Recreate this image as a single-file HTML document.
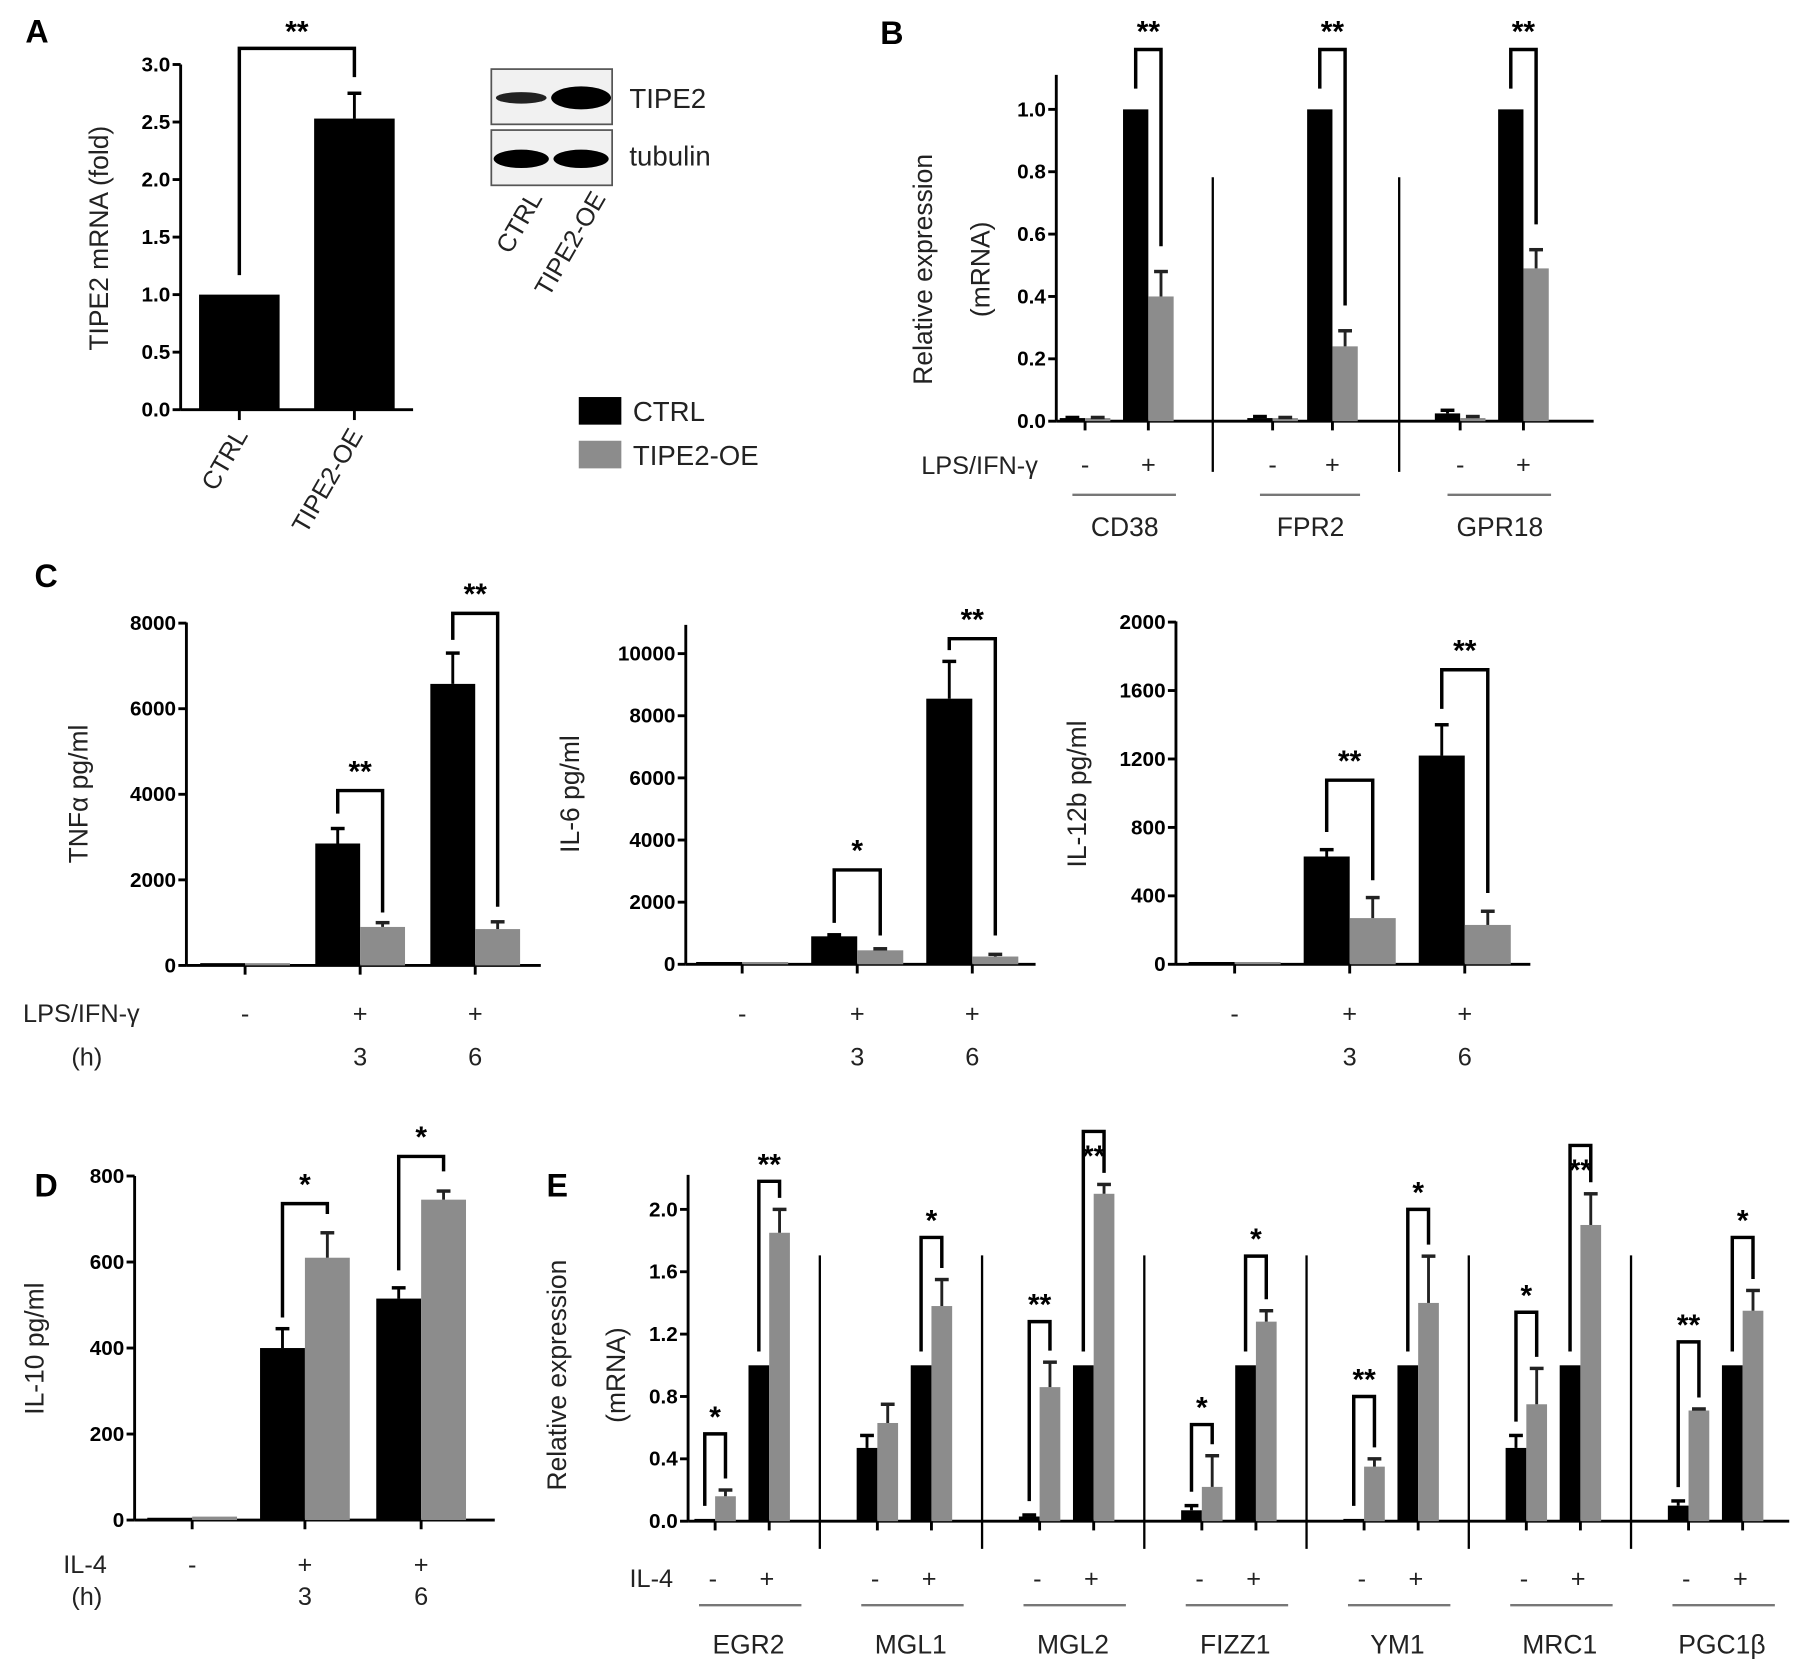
<!DOCTYPE html>
<html><head><meta charset="utf-8">
<style>
html,body{margin:0;padding:0;background:#fff;}
svg{display:block;}
text{font-family:"Liberation Sans",Arial,sans-serif;}
.tk{font-weight:bold;font-size:18px;}
.lb{font-size:22px;fill:#222;}
.pl{font-weight:bold;font-size:28px;}
</style></head>
<body>
<svg id="fig" xmlns="http://www.w3.org/2000/svg" width="1795" height="1672" viewBox="0 0 1560 1453"></svg>
<script>
// ---------- Data ----------
// Panel A
const aCats = ["CTRL", "TIPE2-OE"];
const aVals = [1.0, 2.53];
const aErr = [1.0, 2.75];
const aTicks = [0, 0.5, 1.0, 1.5, 2.0, 2.5, 3.0];
// Panel B
const bGenes = ["CD38", "FPR2", "GPR18"];
const bCtrl = [[0.01, 1.0], [0.01, 1.0], [0.025, 1.0]];
const bCtrlErr = [[0.012, 1.0], [0.015, 1.0], [0.035, 1.0]];
const bOE = [[0.01, 0.40], [0.01, 0.24], [0.01, 0.49]];
const bOEErr = [[0.012, 0.48], [0.012, 0.29], [0.015, 0.55]];
const bTicks = [0, 0.2, 0.4, 0.6, 0.8, 1.0];
// Panel C
const cTnfCtrl = [30, 2850, 6580];
const cTnfCtrlErr = [30, 3200, 7300];
const cTnfOE = [30, 900, 850];
const cTnfOEErr = [30, 1000, 1020];
const cTnfTicks = [0, 2000, 4000, 6000, 8000];
const cIl6Ctrl = [30, 900, 8550];
const cIl6CtrlErr = [30, 950, 9750];
const cIl6OE = [10, 450, 250];
const cIl6OEErr = [10, 500, 320];
const cIl6Ticks = [0, 2000, 4000, 6000, 8000, 10000];
const cIl12Ctrl = [10, 630, 1220];
const cIl12CtrlErr = [10, 670, 1400];
const cIl12OE = [10, 270, 230];
const cIl12OEErr = [10, 390, 310];
const cIl12Ticks = [0, 400, 800, 1200, 1600, 2000];
// Panel D
const dCtrl = [5, 400, 515];
const dCtrlErr = [5, 445, 540];
const dOE = [8, 610, 745];
const dOEErr = [8, 668, 765];
const dTicks = [0, 200, 400, 600, 800];
// Panel E
const eGenes = ["EGR2", "MGL1", "MGL2", "FIZZ1", "YM1", "MRC1", "PGC1β"];
const eCtrl = [[0.01, 1.0], [0.47, 1.0], [0.03, 1.0], [0.07, 1.0], [0.01, 1.0], [0.47, 1.0], [0.10, 1.0]];
const eCtrlErr = [[0.01, 1.0], [0.55, 1.0], [0.04, 1.0], [0.10, 1.0], [0.01, 1.0], [0.55, 1.0], [0.13, 1.0]];
const eOE = [[0.16, 1.85], [0.63, 1.38], [0.86, 2.10], [0.22, 1.28], [0.35, 1.40], [0.75, 1.90], [0.71, 1.35]];
const eOEErr = [[0.20, 2.00], [0.75, 1.55], [1.02, 2.16], [0.42, 1.35], [0.40, 1.70], [0.98, 2.10], [0.72, 1.48]];
const eSig = [["*", "**"], ["", "*"], ["**", "**"], ["*", "*"], ["**", "*"], ["*", "**"], ["**", "*"]];
const eSigTop = [[0.56, 2.18], [0, 1.82], [1.28, 2.5], [0.62, 1.70], [0.80, 2.00], [1.34, 2.41], [1.15, 1.82]];
const eTicks = [0, 0.4, 0.8, 1.2, 1.6, 2.0];

// ---------- Helpers ----------
const NS = "http://www.w3.org/2000/svg";
const svg = document.getElementById("fig");
const BLACK = "#000", GRAY = "#8c8c8c";
function el(tag, attrs, name, txt) {
  const e = document.createElementNS(NS, tag);
  for (const k in attrs) e.setAttribute(k, attrs[k]);
  
  
  if (txt !== undefined) e.textContent = txt;
  svg.appendChild(e);
  return e;
}
function line(x1, y1, x2, y2, name, w, col) {
  return el("line", {x1, y1, x2, y2, stroke: col || "#000", "stroke-width": w || 2.5}, name);
}
function text(x, y, s, cls, name, anchor, extra) {
  const a = Object.assign({x, y, class: cls, "text-anchor": anchor || "middle"}, extra || {});
  return el("text", a, name, s);
}
function yAxis(x, yTop, yOf, ticks, fmt, name) {
  line(x, yTop, x, yOf(0), name + "-y-axis");
  ticks.forEach(t => {
    const y = yOf(t);
    line(x - 7, y, x, y, name + "-y-tick");
    text(x - 9, y + 6, fmt(t), "tk", name + "-y-tick-label", "end");
  });
}
function bar(x, w, v, e, yOf, col, name) {
  const y = yOf(v), y0 = yOf(0);
  el("rect", {x: x, y: Math.min(y, y0 - 2), width: w, height: Math.max(y0 - y, 2), fill: col}, name);
  const cx = x + w / 2;
  if (e > v) {
    const ye = yOf(e);
    line(cx, ye, cx, y, name + "-error", 2.5, col === BLACK ? "#000" : "#222");
    line(cx - 6, ye, cx + 6, ye, name + "-error-cap", 3, col === BLACK ? "#000" : "#222");
  }
}
function bracket(x1, y1, x2, y2, yTop, star, name, starY) {
  el("path", {d: `M${x1},${y1} L${x1},${yTop} L${x2},${yTop} L${x2},${y2}`, fill: "none", stroke: "#000", "stroke-width": 3}, name);
  if (star) text((x1 + x2) / 2, starY !== undefined ? starY : yTop - 6, star, "pl", name + "-stars", "middle", {style: "font-size:26px"});
}
function ytitle(x, yc, s, name) {
  text(x, yc, s, "lb", name, "middle", {transform: `rotate(-90 ${x} ${yc})`, style: "font-size:23px"});
}

// ---------- Panel A ----------
text(22, 37, "A", "pl", "panel-a-label", "start");
{
  const yOf = v => 356 - v * 100;
  yAxis(157, 56, yOf, aTicks, t => t.toFixed(1), "panel-a");
  line(157, 356, 359, 356, "panel-a-x-axis");
  const xs = [208, 308];
  aCats.forEach((c, i) => {
    bar(xs[i] - 35, 70, aVals[i], aErr[i], yOf, BLACK, "panel-a-bar-" + c.toLowerCase());
    line(xs[i], 356, xs[i], 365, "panel-a-x-tick");
    text(xs[i] + 8, 378, c, "lb", "panel-a-x-label", "end", {transform: `rotate(-60 ${xs[i] + 8} 378)`});
  });
  bracket(xs[0], yOf(aVals[0]) - 17, xs[1], yOf(aErr[1]) - 14, 42, "**", "panel-a-significance");
  ytitle(94, 207, "TIPE2 mRNA (fold)", "panel-a-y-title");
  // western blot
  el("rect", {x: 427, y: 60, width: 105, height: 48, fill: "#f1f1f1", stroke: "#555", "stroke-width": 1.5}, "blot-tipe2-box");
  el("rect", {x: 427, y: 113, width: 105, height: 48, fill: "#f1f1f1", stroke: "#555", "stroke-width": 1.5}, "blot-tubulin-box");
  el("ellipse", {cx: 453, cy: 85, rx: 22, ry: 5, fill: "#222"}, "blot-band-tipe2-ctrl");
  el("ellipse", {cx: 505, cy: 85, rx: 26, ry: 10, fill: "#000"}, "blot-band-tipe2-oe");
  el("ellipse", {cx: 453, cy: 138, rx: 24, ry: 8, fill: "#000"}, "blot-band-tubulin-ctrl");
  el("ellipse", {cx: 505, cy: 138, rx: 24, ry: 8, fill: "#000"}, "blot-band-tubulin-oe");
  text(547, 94, "TIPE2", "lb", "blot-label-tipe2", "start", {style: "font-size:24px"});
  text(547, 144, "tubulin", "lb", "blot-label-tubulin", "start", {style: "font-size:24px"});
  text(472, 172, "CTRL", "lb", "blot-lane-ctrl", "end", {transform: "rotate(-60 472 172)"});
  text(527, 172, "TIPE2-OE", "lb", "blot-lane-oe", "end", {transform: "rotate(-60 527 172)"});
  // legend
  el("rect", {x: 503, y: 345, width: 37, height: 24, fill: BLACK}, "legend-ctrl-swatch");
  text(550, 366, "CTRL", "lb", "legend-ctrl-label", "start", {style: "font-size:24px"});
  el("rect", {x: 503, y: 383, width: 37, height: 24, fill: GRAY}, "legend-oe-swatch");
  text(550, 404, "TIPE2-OE", "lb", "legend-oe-label", "start", {style: "font-size:24px"});
}

// ---------- Panel B ----------
text(765, 38, "B", "pl", "panel-b-label", "start");
{
  const yOf = v => 366 - v * 271;
  yAxis(918, 65, yOf, bTicks, t => t.toFixed(1), "panel-b");
  line(918, 366, 1385, 366, "panel-b-x-axis");
  [1054, 1216].forEach(x => line(x, 154, x, 410, "panel-b-separator", 2));
  const pos = [[943, 998], [1106, 1158], [1269, 1324]];
  const w = 22;
  text(902, 412, "LPS/IFN-γ", "lb", "panel-b-treatment-label", "end");
  bGenes.forEach((g, gi) => {
    pos[gi].forEach((x, j) => {
      bar(x - w, w, bCtrl[gi][j], bCtrlErr[gi][j], yOf, BLACK, "panel-b-bar-ctrl-" + g.toLowerCase());
      bar(x, w, bOE[gi][j], bOEErr[gi][j], yOf, GRAY, "panel-b-bar-oe-" + g.toLowerCase());
      line(x, 366, x, 374, "panel-b-x-tick");
      text(x, 411, j ? "+" : "-", "lb", "panel-b-treatment-sign");
    });
    const xp = pos[gi][1];
    bracket(xp - w / 2, yOf(bCtrl[gi][1]) - 18, xp + w / 2, yOf(bOEErr[gi][1]) - 22, 43, "**", "panel-b-significance-" + g.toLowerCase(), 36);
    line(pos[gi][0] - 11, 430, pos[gi][1] + 24, 430, "panel-b-group-underline", 2, "#777");
    text((pos[gi][0] + pos[gi][1]) / 2 + 7, 466, g, "lb", "panel-b-gene-label", "middle", {style: "font-size:23px"});
  });
  ytitle(810, 234, "Relative expression", "panel-b-y-title");
  ytitle(860, 234, "(mRNA)", "panel-b-y-title-unit");
}

// ---------- Panel C ----------
text(30, 510, "C", "pl", "panel-c-label", "start");
function cytokine(cfg) {
  const yOf = v => cfg.y0 - v * cfg.k;
  yAxis(cfg.x, cfg.top, yOf, cfg.ticks, t => String(t), cfg.name);
  line(cfg.x, cfg.y0, cfg.xEnd, cfg.y0, cfg.name + "-x-axis");
  const w = cfg.w;
  cfg.pos.forEach((x, i) => {
    bar(x - w, w, cfg.ctrl[i], cfg.ctrlErr[i], yOf, BLACK, cfg.name + "-bar-ctrl");
    bar(x, w, cfg.oe[i], cfg.oeErr[i], yOf, GRAY, cfg.name + "-bar-oe");
    line(x, cfg.y0, x, cfg.y0 + 8, cfg.name + "-x-tick");
    text(x, cfg.signY, i ? "+" : "-", "lb", cfg.name + "-treatment-sign");
    if (i) text(x, cfg.hourY, cfg.hours[i], "lb", cfg.name + "-hours-label");
    if (i && cfg.sig[i]) {
      bracket(x - w / 2, cfg.legL[i], x + w / 2, cfg.legR[i], cfg.btop[i], cfg.sig[i], cfg.name + "-significance", cfg.btop[i] - 8);
    }
  });
  ytitle(cfg.tx, cfg.ty, cfg.title, cfg.name + "-y-title");
}
cytokine({name: "panel-c-tnf", x: 162, top: 541, y0: 839, k: 297.5 / 8000, xEnd: 470, ticks: cTnfTicks, w: 39,
  pos: [213, 313, 413], hours: ["", "3", "6"], ctrl: cTnfCtrl, ctrlErr: cTnfCtrlErr, oe: cTnfOE, oeErr: cTnfOEErr,
  sig: ["", "**", "**"], btop: [0, 687, 533], legL: [0, 707, 556], legR: [0, 793, 788], signY: 888, hourY: 926, tx: 76, ty: 690, title: "TNFα pg/ml"});
cytokine({name: "panel-c-il6", x: 596, top: 543, y0: 838, k: 270 / 10000, xEnd: 900, ticks: cIl6Ticks, w: 40,
  pos: [645, 745, 845], hours: ["", "3", "6"], ctrl: cIl6Ctrl, ctrlErr: cIl6CtrlErr, oe: cIl6OE, oeErr: cIl6OEErr,
  sig: ["", "*", "**"], btop: [0, 756, 555], legL: [0, 802, 565], legR: [0, 813, 813], signY: 888, hourY: 926, tx: 503, ty: 690, title: "IL-6 pg/ml"});
cytokine({name: "panel-c-il12b", x: 1022, top: 540, y0: 838, k: 297.4 / 2000, xEnd: 1330, ticks: cIl12Ticks, w: 40,
  pos: [1073, 1173, 1273], hours: ["", "3", "6"], ctrl: cIl12Ctrl, ctrlErr: cIl12CtrlErr, oe: cIl12OE, oeErr: cIl12OEErr,
  sig: ["", "**", "**"], btop: [0, 678, 582], legL: [0, 723, 616], legR: [0, 765, 776], signY: 888, hourY: 926, tx: 944, ty: 690, title: "IL-12b pg/ml"});
text(20, 888, "LPS/IFN-γ", "lb", "panel-c-treatment-label", "start");
text(62, 926, "(h)", "lb", "panel-c-hours-label", "start");

// ---------- Panel D ----------
text(30, 1040, "D", "pl", "panel-d-label", "start");
cytokine({name: "panel-d-il10", x: 117, top: 1022, y0: 1321, k: 299 / 800, xEnd: 430, ticks: dTicks, w: 39,
  pos: [167, 265, 366], hours: ["", "3", "6"], ctrl: dCtrl, ctrlErr: dCtrlErr, oe: dOE, oeErr: dOEErr,
  sig: ["", "*", "*"], btop: [0, 1046, 1005], legL: [0, 1145, 1104], legR: [0, 1055, 1018], signY: 1367, hourY: 1395, tx: 38, ty: 1172, title: "IL-10 pg/ml"});
text(55, 1367, "IL-4", "lb", "panel-d-treatment-label", "start");
text(62, 1395, "(h)", "lb", "panel-d-hours-label", "start");

// ---------- Panel E ----------
text(475, 1040, "E", "pl", "panel-e-label", "start");
{
  const yOf = v => 1322 - v * 135.5;
  yAxis(598, 1021, yOf, eTicks, t => t.toFixed(1), "panel-e");
  line(598, 1322, 1555, 1322, "panel-e-x-axis");
  const w = 18;
  text(585, 1379, "IL-4", "lb", "panel-e-treatment-label", "end");
  eGenes.forEach((g, gi) => {
    const base = 621.5 + gi * 141;
    if (gi < 6) line(base + 91, 1091, base + 91, 1346, "panel-e-separator", 2);
    const xs = [base, base + 47];
    xs.forEach((x, j) => {
      bar(x - w, w, eCtrl[gi][j], eCtrlErr[gi][j], yOf, BLACK, "panel-e-bar-ctrl-" + g.toLowerCase());
      bar(x, w, eOE[gi][j], eOEErr[gi][j], yOf, GRAY, "panel-e-bar-oe-" + g.toLowerCase());
      line(x, 1322, x, 1330, "panel-e-x-tick");
      text(x - 2, 1379, j ? "+" : "-", "lb", "panel-e-treatment-sign");
      if (eSig[gi][j]) {
        const top = yOf(eSigTop[gi][j]);
        const inside = eSigTop[gi][j] > 2.3;
        bracket(x - w / 2, yOf(eCtrlErr[gi][j]) - 12, x + w / 2, yOf(eOEErr[gi][j]) - 10, top, eSig[gi][j],
          "panel-e-significance-" + g.toLowerCase(), inside ? top + 30 : top - 6);
      }
    });
    line(base - 14, 1395, base + 75, 1395, "panel-e-group-underline", 2, "#777");
    text(base + 29, 1437, g, "lb", "panel-e-gene-label", "middle", {style: "font-size:23px"});
  });
  ytitle(492, 1195, "Relative expression", "panel-e-y-title");
  ytitle(543, 1195, "(mRNA)", "panel-e-y-title-unit");
}
</script>
</body></html>
